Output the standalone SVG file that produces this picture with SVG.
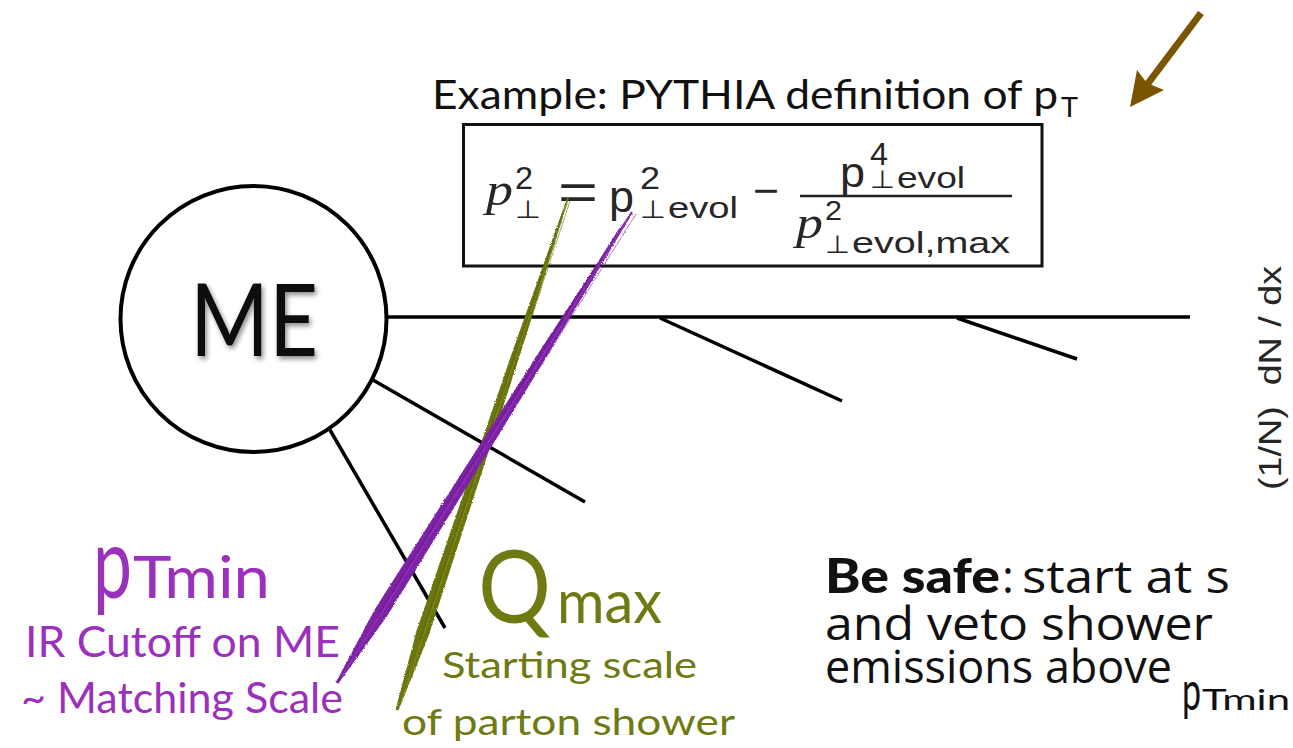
<svg xmlns="http://www.w3.org/2000/svg" width="1293" height="748" viewBox="0 0 1293 748">
<style>
.gill{font-family:Lato,"Open Sans","Liberation Sans",sans-serif}
.open{font-family:"Open Sans",Lato,"Liberation Sans",sans-serif}
.blk{fill:#111}
.pur{fill:#9a30bb}
.oli{fill:#6f7a12}
.fs{font-family:"Liberation Sans",Arial,sans-serif;fill:#262626}
.fi{font-family:"Liberation Serif","Times New Roman",serif;font-style:italic;fill:#262626}
.perp{font-family:"DejaVu Sans",sans-serif;fill:#262626}
.ln{stroke:#000;stroke-width:3.5;fill:none;stroke-linecap:butt}
</style>
<defs>
<filter id="shadow" x="-20%" y="-20%" width="140%" height="140%">
<feDropShadow dx="2" dy="3" stdDeviation="2.5" flood-color="#000" flood-opacity="0.45"/>
</filter>
<filter id="rough" x="-10%" y="-10%" width="120%" height="120%">
<feTurbulence type="fractalNoise" baseFrequency="0.9" numOctaves="2" seed="3" result="n"/>
<feDisplacementMap in="SourceGraphic" in2="n" scale="2.5" xChannelSelector="R" yChannelSelector="G"/>
</filter>
</defs>
<rect width="1293" height="748" fill="#fff"/>

<g id="connectors">
<line class="ln" x1="387" y1="317" x2="1190" y2="317" stroke-width="4"/>
<line class="ln" x1="660" y1="318" x2="842" y2="401"/>
<line class="ln" x1="957" y1="318" x2="1077" y2="359"/>
<line class="ln" x1="373" y1="380" x2="585" y2="502"/>
<line class="ln" x1="330" y1="430" x2="445" y2="628"/>
</g>

<g id="me-node">
<circle cx="253.5" cy="319" r="133" fill="#fff" stroke="#000" stroke-width="4"/>
<text class="gill blk" x="190" y="356" font-size="101" textLength="128" lengthAdjust="spacingAndGlyphs" filter="url(#shadow)">ME</text>
</g>

<g id="title">
<text class="gill blk" x="432" y="109" font-size="40" textLength="626" lengthAdjust="spacingAndGlyphs">Example: PYTHIA definition of p</text>
<text class="gill blk" x="1061" y="117" font-size="27" textLength="17" lengthAdjust="spacingAndGlyphs">T</text>
</g>

<g id="formula">
<rect x="463.5" y="124.5" width="578.5" height="141.5" fill="none" stroke="#111" stroke-width="3"/>
<text class="fi" x="486" y="205" font-size="46" textLength="27" lengthAdjust="spacingAndGlyphs">p</text>
<text class="fs" x="515" y="189" font-size="32" textLength="18" lengthAdjust="spacingAndGlyphs">2</text>
<text class="perp" x="515" y="218" font-size="25" textLength="26" lengthAdjust="spacingAndGlyphs">⊥</text>
<text class="fs" x="558" y="210" font-size="52" textLength="40" lengthAdjust="spacingAndGlyphs">=</text>
<text class="fs" x="609" y="212" font-size="44" textLength="25" lengthAdjust="spacingAndGlyphs">p</text>
<text class="fs" x="640" y="189" font-size="32" textLength="20" lengthAdjust="spacingAndGlyphs">2</text>
<text class="perp" x="640" y="218" font-size="25" textLength="26" lengthAdjust="spacingAndGlyphs">⊥</text>
<text class="fs" x="668" y="218" font-size="30" textLength="70" lengthAdjust="spacingAndGlyphs">evol</text>
<text class="fs" x="753" y="205" font-size="42" textLength="26" lengthAdjust="spacingAndGlyphs">−</text>
<line x1="800" y1="196" x2="1012" y2="196" stroke="#222" stroke-width="2.5"/>
<text class="fs" x="840" y="187" font-size="42" textLength="25" lengthAdjust="spacingAndGlyphs">p</text>
<text class="fs" x="870" y="165" font-size="31" textLength="18" lengthAdjust="spacingAndGlyphs">4</text>
<text class="perp" x="870" y="188" font-size="25" textLength="25" lengthAdjust="spacingAndGlyphs">⊥</text>
<text class="fs" x="897" y="188" font-size="29" textLength="68" lengthAdjust="spacingAndGlyphs">evol</text>
<text class="fi" x="796" y="238" font-size="46" textLength="27" lengthAdjust="spacingAndGlyphs">p</text>
<text class="fs" x="825" y="220" font-size="27" textLength="17" lengthAdjust="spacingAndGlyphs">2</text>
<text class="perp" x="825" y="253" font-size="25" textLength="25" lengthAdjust="spacingAndGlyphs">⊥</text>
<text class="fs" x="852" y="253" font-size="30" textLength="158" lengthAdjust="spacingAndGlyphs">evol,max</text>
</g>

<g id="axis-label">
<text class="fs" transform="translate(1281,490) rotate(-90)" font-size="31" fill="#111" textLength="224" lengthAdjust="spacingAndGlyphs" xml:space="preserve">(1/N)  dN / dx</text>
</g>

<g id="arrow">
<line x1="1201" y1="13" x2="1146" y2="86" stroke="#7a5500" stroke-width="7"/>
<polygon points="1130,107 1137,70 1147,83 1164,90" fill="#7a5500"/>
</g>

<g id="brush-strokes" filter="url(#rough)">
<polygon fill="#6b740f" points="568.8,198.3 520.5,352.9 470.6,507.0 428.8,635.3 398.4,710.5 395.6,709.5 416.5,631.1 460.2,503.4 512.9,350.3 567.2,197.7"/>
<line x1="566" y1="205" x2="401" y2="703" stroke="#8a9420" stroke-width="1.2" opacity="0.7"/>
<line x1="563" y1="212" x2="420" y2="640" stroke="#5d650a" stroke-width="1.2" opacity="0.8"/>
<line x1="570" y1="201" x2="425" y2="640" stroke="#6b740f" stroke-width="1" opacity="0.6"/>
<polygon fill="#7b22a3" points="632.8,212.5 547.3,355.6 460.1,497.8 387.2,616.0 338.2,683.8 335.8,682.2 375.3,608.6 449.9,491.4 539.7,350.9 631.2,211.5"/>
<line x1="628" y1="219" x2="342" y2="676" stroke="#9a3fc4" stroke-width="1.2" opacity="0.7"/>
<line x1="620" y1="228" x2="380" y2="612" stroke="#6a1a90" stroke-width="1.2" opacity="0.8"/>
<line x1="636" y1="214" x2="390" y2="606" stroke="#7b22a3" stroke-width="1" opacity="0.6"/>
</g>

<g id="ptmin-label">
<text class="gill pur" x="93" y="598" font-size="98" textLength="39" lengthAdjust="spacingAndGlyphs">p</text>
<text class="gill pur" x="133" y="598" font-size="59" textLength="137" lengthAdjust="spacingAndGlyphs">Tmin</text>
<text class="gill pur" x="25" y="657" font-size="42" textLength="315" lengthAdjust="spacingAndGlyphs">IR Cutoff on ME</text>
<text class="gill pur" x="21" y="713" font-size="42" textLength="322" lengthAdjust="spacingAndGlyphs">~ Matching Scale</text>
</g>

<g id="qmax-label">
<text class="gill oli" x="478" y="623" font-size="101" textLength="73" lengthAdjust="spacingAndGlyphs">Q</text>
<text class="gill oli" x="557" y="623" font-size="60" textLength="105" lengthAdjust="spacingAndGlyphs">max</text>
<text class="gill oli" x="442" y="678" font-size="37" textLength="255" lengthAdjust="spacingAndGlyphs">Starting scale</text>
<text class="gill oli" x="402" y="735" font-size="37" textLength="333" lengthAdjust="spacingAndGlyphs">of parton shower</text>
</g>

<g id="be-safe">
<text class="gill blk" x="825" y="593" font-size="47" font-weight="900" textLength="175" lengthAdjust="spacingAndGlyphs">Be safe</text>
<text class="open blk" x="1002" y="593" font-size="45">:</text>
<text class="open blk" x="1022" y="593" font-size="45" textLength="208" lengthAdjust="spacingAndGlyphs">start at s</text>
<text class="open blk" x="825" y="640" font-size="45" textLength="388" lengthAdjust="spacingAndGlyphs">and veto shower</text>
<text class="open blk" x="825" y="683" font-size="45" textLength="347" lengthAdjust="spacingAndGlyphs">emissions above</text>
<text class="gill blk" x="1182" y="710" font-size="54" textLength="19" lengthAdjust="spacingAndGlyphs">p</text>
<text class="gill blk" x="1202" y="710" font-size="28" textLength="88" lengthAdjust="spacingAndGlyphs">Tmin</text>
</g>
</svg>
